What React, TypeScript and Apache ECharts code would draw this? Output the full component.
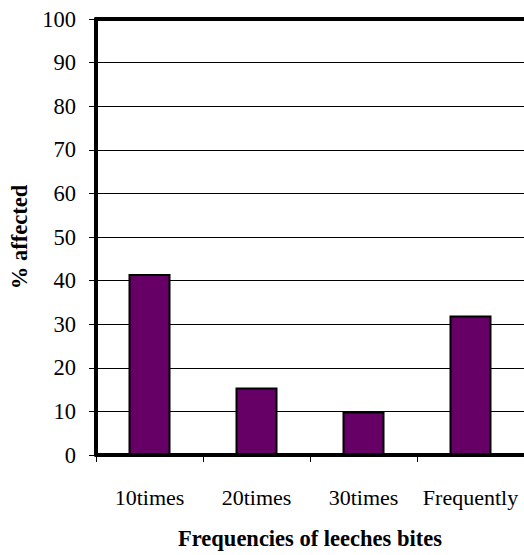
import React, { useEffect, useRef } from "react";
import * as echarts from "echarts";

const categories = ["10times", "20times", "30times", "Frequently"];
const affected = [41.5, 15.5, 10, 32];
const yTicks = { min: 0, max: 100, interval: 10 };

export default function App() {
  const ref = useRef<HTMLDivElement>(null);
  useEffect(() => {
    if (!ref.current) return;
    const chart = echarts.init(ref.current, undefined, { renderer: "svg" });
    const font = "Liberation Serif";
    chart.setOption({
      animation: false,
      backgroundColor: "#ffffff",
      textStyle: { fontFamily: font },
      grid: { left: 96, top: 19, bottom: 100, right: -2, containLabel: false },
      xAxis: [
        {
          type: "category",
          data: categories,
          position: "bottom",
          name: "Frequencies of leeches bites",
          nameLocation: "middle",
          nameGap: 72,
          nameTextStyle: { fontFamily: font, fontWeight: "bold", fontSize: 22.5, color: "#000" },
          axisLine: { lineStyle: { color: "#000", width: 4 } },
          axisTick: { show: true, interval: 0, length: 7, lineStyle: { color: "#000", width: 1 } },
          axisLabel: { interval: 0, margin: 31, fontFamily: font, fontSize: 22, color: "#000" },
          splitLine: { show: false },
        },
        {
          type: "category",
          data: categories,
          position: "top",
          axisLine: { lineStyle: { color: "#000", width: 4 } },
          axisTick: { show: false },
          axisLabel: { show: false },
        },
      ],
      yAxis: {
        type: "value",
        min: yTicks.min,
        max: yTicks.max,
        interval: yTicks.interval,
        name: "% affected",
        nameLocation: "middle",
        nameGap: 64,
        nameTextStyle: { fontFamily: font, fontWeight: "bold", fontSize: 22.5, color: "#000" },
        axisLine: { show: true, lineStyle: { color: "#000", width: 4 } },
        axisTick: { show: true, length: 7, lineStyle: { color: "#000", width: 1 } },
        axisLabel: { margin: 20, fontFamily: font, fontSize: 22.5, color: "#000" },
        splitLine: { show: true, lineStyle: { color: "#000", width: 1 } },
      },
      series: [
        {
          type: "bar",
          data: affected,
          barWidth: 42,
          itemStyle: { color: "#660066", borderColor: "#000", borderWidth: 2 },
        },
      ],
    });
    return () => chart.dispose();
  }, []);
  return (
    <div
      ref={ref}
      style={{ position: "absolute", left: 0, top: 0, width: 524, height: 555 }}
    />
  );
}
